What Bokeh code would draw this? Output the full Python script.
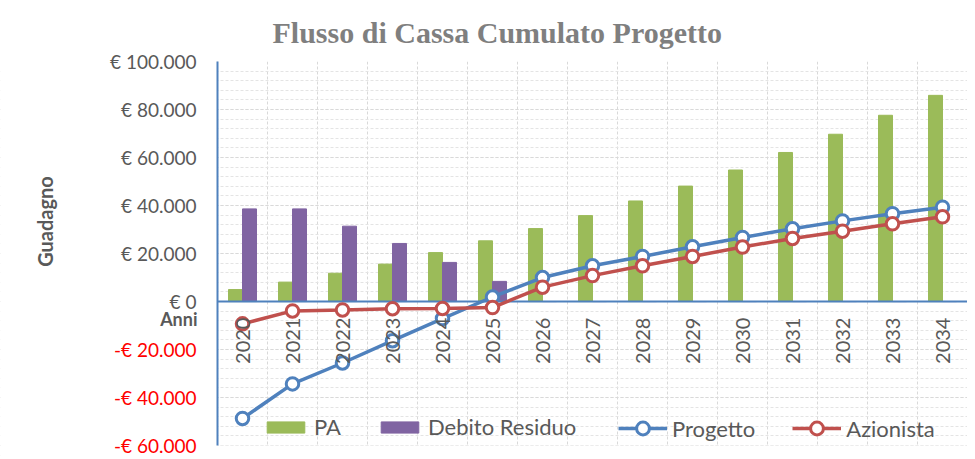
import math
from bokeh.plotting import figure
from bokeh.models import (ColumnDataSource, Range1d, FixedTicker, SingleIntervalTicker,
                          BoxAnnotation, Legend, LegendItem)
from bokeh.transform import dodge
from bokeh.core.properties import value
from bokeh.embed import file_html
from bokeh.resources import INLINE

# ---------------- data ----------------
years = ["2020", "2021", "2022", "2023", "2024", "2025", "2026", "2027",
         "2028", "2029", "2030", "2031", "2032", "2033", "2034"]
pa = [5000, 8100, 11800, 15600, 20400, 25300, 30400, 35800,
      41900, 48100, 54800, 62100, 69700, 77600, 85900]
debito_residuo = [38600, 38600, 31400, 24200, 16300, 8400, 0, 0,
                  0, 0, 0, 0, 0, 0, 0]
progetto = [-48700, -34300, -25600, -16300, -7100, 1900, 10000, 14900,
            18800, 22800, 26700, 30300, 33600, 36600, 39300]
azionista = [-9300, -3900, -3500, -3000, -2900, -2500, 6000, 10800,
             14900, 18800, 22700, 26300, 29300, 32400, 35300]
y_ticks = [-60000, -40000, -20000, 0, 20000, 40000, 60000, 80000, 100000]
x_title = "Anni"
y_title = "Guadagno"
chart_title = "Flusso di Cassa Cumulato Progetto"

GREEN = "#9bbb59"
PURPLE = "#8064a2"
BLUE = "#4f81bd"
RED = "#c0504d"
GRAY = "#595959"
GRID = "#d9d9d9"
FONT = "Lato"
LEFT_PAD = 4.34     # room (in category widths) for the tick labels left of the chart area
BOTTOM_PAD = 5800   # room (in value units) below the lowest tick for its label

y_min, y_max = min(y_ticks), max(y_ticks)


def euro(v):
    s = f"{abs(v):,}".replace(",", ".")
    return ("-€ " if v < 0 else "€ ") + s


idx = list(range(len(years)))
src = ColumnDataSource(dict(x=idx, year=years, zero=[0] * len(years),
                            pa=pa, deb=debito_residuo,
                            prog=progetto, azi=azionista))
x_left = -0.5
x_right = len(years) - 0.5
tick_src = ColumnDataSource(dict(
    x=[x_left] * len(y_ticks), y=y_ticks,
    text=[euro(t) for t in y_ticks],
    color=["#ff0000" if t < 0 else GRAY for t in y_ticks]))

p = figure(width=967, height=459, output_backend="svg", toolbar_location=None,
           x_range=Range1d(x_left - LEFT_PAD, x_right),
           y_range=Range1d(y_min - BOTTOM_PAD, y_max),
           min_border_left=0, min_border_right=0, min_border_top=59,
           min_border_bottom=0)
p.outline_line_color = None
p.background_fill_color = "white"
p.border_fill_color = "white"

# title
p.title.text = chart_title
p.title.text_font = "Liberation Serif"
p.title.text_font_style = "bold"
p.title.text_font_size = "30px"
p.title.text_color = "#7f7f7f"
p.title.align = "left"
p.title.offset = 272
p.title.standoff = 26

# axes (drawn by hand below, since the labels use two colours)
p.xaxis.visible = False
p.yaxis.visible = False

# grids
p.ygrid.ticker = SingleIntervalTicker(interval=20000, num_minor_ticks=5)
p.ygrid.grid_line_color = GRID
p.ygrid.grid_line_dash = "3 2"
p.ygrid.minor_grid_line_color = "#e4e4e4"
p.ygrid.minor_grid_line_dash = "3 2"
p.xgrid.ticker = FixedTicker(ticks=[i - 0.5 for i in range(len(years) + 1)])
p.xgrid.grid_line_color = GRID
p.xgrid.grid_line_dash = "3 2"

# blank the grid outside the chart area (label room)
p.add_layout(BoxAnnotation(right=x_left, fill_color="white", fill_alpha=1.0,
                           line_color=None, level="annotation"))
p.add_layout(BoxAnnotation(top=y_min, fill_color="white", fill_alpha=1.0,
                           line_color=None, level="annotation"))

# bars
r_pa = p.vbar(x=dodge("x", -0.14, range=p.x_range), top="pa", width=0.28,
              source=src, fill_color=GREEN, line_color=GREEN)
r_deb = p.vbar(x=dodge("x", 0.14, range=p.x_range), top="deb", width=0.28,
               source=src, fill_color=PURPLE, line_color=PURPLE)

# horizontal (category) axis line at zero
p.segment(x0=[x_left], y0=[0], x1=[x_right], y1=[0], line_color=BLUE,
          line_width=2)

# lines
r_pl = p.line(x="x", y="prog", source=src, line_color=BLUE, line_width=3.5)
r_ps = p.scatter(x="x", y="prog", source=src, size=12.5, marker="circle",
                 fill_color="white", line_color=BLUE, line_width=3)
r_al = p.line(x="x", y="azi", source=src, line_color=RED, line_width=3.5)
r_as = p.scatter(x="x", y="azi", source=src, size=12.5, marker="circle",
                 fill_color="white", line_color=RED, line_width=3)

# year labels on the zero axis (drawn above the series, as in the original)
p.text(x="x", y="zero", text="year", source=src, angle=math.pi / 2,
       text_align="right", text_baseline="middle", y_offset=16,
       text_font=value(FONT), text_font_size="20px", text_color=GRAY,
       level="overlay")

# vertical axis line
p.segment(x0=[x_left], y0=[y_min], x1=[x_left], y1=[y_max], line_color=BLUE,
          line_width=2, level="overlay")

# y tick labels (negatives in red)
p.text(x="x", y="y", text="text", source=tick_src, text_color="color",
       x_offset=-21, text_align="right", text_baseline="middle",
       text_font=value(FONT), text_font_size="19px", level="overlay")

# axis titles
p.text(x=[x_left], y=[0], text=[x_title], x_offset=-20, y_offset=17,
       text_align="right", text_baseline="middle", text_font=value(FONT),
       text_font_style="bold", text_font_size="18px", text_color=GRAY,
       level="overlay")
p.text(x=[x_left], y=[0], text=[y_title], x_offset=-173, y_offset=-80,
       angle=math.pi / 2, text_align="center", text_baseline="middle",
       text_font=value(FONT), text_font_style="bold", text_font_size="20px",
       text_color=GRAY, level="overlay")

# legends
common = dict(orientation="horizontal", padding=0, margin=0, label_standoff=5,
              label_text_font=FONT, label_text_font_size="22px",
              label_text_color=GRAY, background_fill_alpha=0,
              border_line_color=None)
leg1 = Legend(items=[LegendItem(label="PA", renderers=[r_pa]),
                     LegendItem(label="Debito Residuo", renderers=[r_deb])],
              location=(262, 19), spacing=35, glyph_width=47, glyph_height=14,
              **common)
leg2 = Legend(items=[LegendItem(label="Progetto", renderers=[r_pl, r_ps]),
                     LegendItem(label="Azionista", renderers=[r_al, r_as])],
              location=(618, 15), spacing=37, glyph_width=49, glyph_height=32,
              **common)
p.add_layout(leg1)
p.add_layout(leg2)

open("out.html", "w").write(file_html(p, INLINE))
